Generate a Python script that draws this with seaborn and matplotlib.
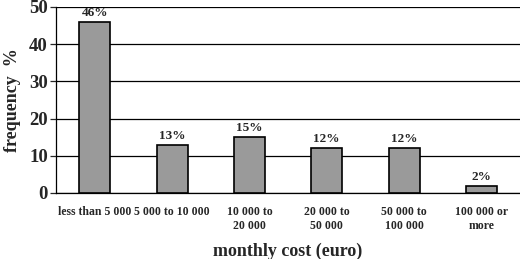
#! /usr/bin/env python3

import seaborn as sns
import pandas as pd
import matplotlib
matplotlib.use('Agg')

import matplotlib.pyplot as plt

categories = ['less than 5 000', '5 000 to 10 000', '10 000 to\n20 000',
              '20 000 to\n50 000', '50 000 to\n100 000', '100 000 or\nmore']
frequency = [46, 13, 15, 12, 12, 2]
labels = ['46%', '13%', '15%', '12%', '12%', '2%']

sns.set_style('white')
plt.rcParams['font.family'] = ['Liberation Serif', 'DejaVu Serif']
plt.rcParams['font.weight'] = 'bold'

data = pd.DataFrame({'cost': categories, 'freq': frequency})

fig, ax = plt.subplots(figsize=(5.2, 2.59), dpi=100)
fig.subplots_adjust(left=0.108, right=1.0, top=0.973, bottom=0.255)

sns.barplot(data=data, x='cost', y='freq', color='#9a9a9a', saturation=1,
            edgecolor='black', linewidth=1.2, width=0.4, ax=ax, zorder=3)

for i, (v, t) in enumerate(zip(frequency, labels)):
    ax.text(i, v + 0.8, t, ha='center', va='bottom', fontsize=9.5,
            fontweight='bold', zorder=5)

ax.set_ylim(0, 50)
ax.set_xlim(-0.5, 5.5)
ax.set_yticks([0, 10, 20, 30, 40, 50])
ax.yaxis.grid(True, color='black', linewidth=0.9, zorder=0)
ax.set_axisbelow(True)
for s in ['top', 'right']:
    ax.spines[s].set_visible(False)
ax.spines['left'].set_color('black')
ax.spines['bottom'].set_color('black')
ax.spines['left'].set_linewidth(0.9)
ax.spines['bottom'].set_linewidth(0.9)

ax.tick_params(axis='y', which='major', left=True, length=4, width=0.9,
               labelsize=13.5, pad=2)
ax.tick_params(axis='x', bottom=False, labelsize=8.5, pad=6)
for lab in ax.get_yticklabels() + ax.get_xticklabels():
    lab.set_fontweight('bold')

ax.set_ylabel('frequency  %', fontsize=13, fontweight='bold', labelpad=6)
ax.set_xlabel('monthly cost (euro)', fontsize=13, fontweight='bold', labelpad=8)

plt.savefig('out.png', dpi=100)
